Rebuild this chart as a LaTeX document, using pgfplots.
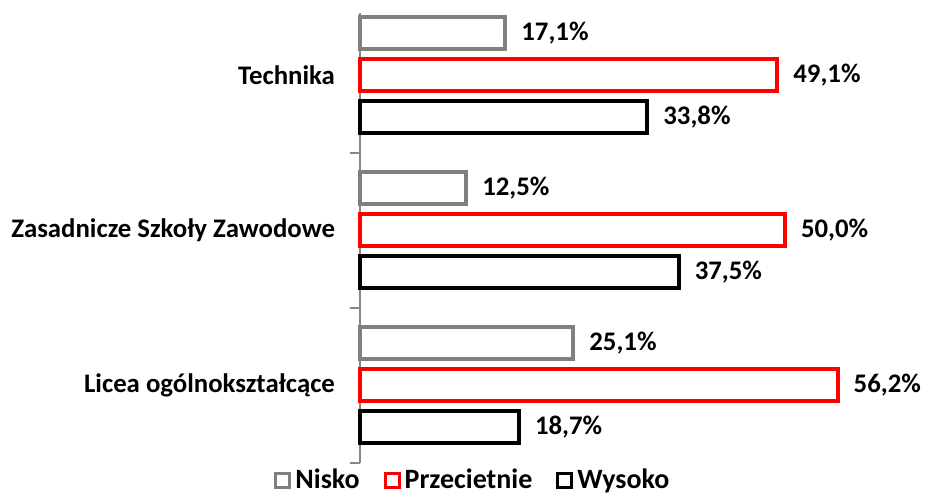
\documentclass[border=0pt]{standalone}
\usepackage{pgfplots}
\pgfplotsset{compat=1.18}
\usepackage{fontspec}
\setmainfont{Carlito}
\definecolor{cgray}{HTML}{808080}
\definecolor{cred}{HTML}{FF0000}
\definecolor{caxis}{HTML}{868686}
\newcommand{\lblfont}{\bfseries\fontsize{13.4}{15.5}\selectfont}
\begin{document}
\begin{tikzpicture}
\path[use as bounding box] (-180pt,-15pt) rectangle (284pt,231.5pt);
\begin{axis}[
  at={(0,0)}, anchor=south west,
  scale only axis, width=280.5pt, height=225pt,
  xmin=0, xmax=66, ymin=-0.5, ymax=2.403,
  xbar, bar width=16pt,
  axis x line=none,
  axis y line*=left,
  y axis line style={caxis, line width=0.6pt},
  ytick={0,1,2},
  yticklabels={Licea ogólnokształcące, Zasadnicze Szkoły Zawodowe, Technika},
  major tick length=0pt,
  minor ytick={-0.5,0.5,1.5},
  minor tick length=5pt,
  tick align=outside,
  minor y tick style={caxis, line width=0.6pt},
  yticklabel style={font=\lblfont, xshift=-9pt, black},
  point meta=x,
  nodes near coords={\pgfmathprintnumber[fixed,fixed zerofill,precision=1,use comma,assume math mode=true]{\pgfplotspointmeta}\%},
  nodes near coords style={font=\lblfont, anchor=west, xshift=3.7pt, black},
  legend columns=3,
  legend style={at={(0.203,-0.038)}, anchor=center, draw=none, fill=none,
    font=\bfseries\fontsize{14}{16}\selectfont,
    /tikz/every even column/.append style={column sep=10pt}},
  legend image code/.code={\draw[#1, line width=1.5pt, fill=white] (0pt,-3.5pt) rectangle (7pt,3.5pt);},
  clip=false,
]
\addplot[draw=cgray, fill=white, line width=2pt, bar shift=21pt] coordinates {(25.1,0) (12.5,1) (17.1,2)};
\addplot[draw=cred, fill=white, line width=2pt, bar shift=0pt] coordinates {(56.2,0) (50.0,1) (49.1,2)};
\addplot[draw=black, fill=white, line width=2pt, bar shift=-21pt] coordinates {(18.7,0) (37.5,1) (33.8,2)};
\legend{Nisko, Przecietnie, Wysoko}
\end{axis}
\end{tikzpicture}
\end{document}
